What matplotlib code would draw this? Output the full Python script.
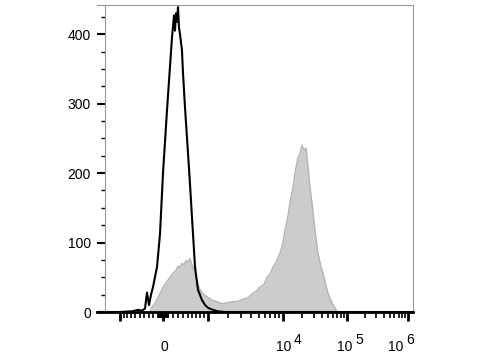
import numpy as np
import matplotlib
matplotlib.use('Agg')
import matplotlib.pyplot as plt
from matplotlib.ticker import FixedLocator, NullFormatter

plt.rcParams['font.family'] = ['Liberation Sans', 'DejaVu Sans']

# control (black outline) histogram: fluorescence value, event count
ctrl_x = [-2000, -1000, -679, -535, -443, -377, -334, -291, -248, -206, -123, -61,
          0, 39, 78, 137, 177, 217, 237, 257, 277, 298, 318, 339, 380, 401, 444,
          509, 553, 598, 669, 740, 841, 920, 1000, 1211, 1440, 1821, 1e6, 2e6]
ctrl_y = [0, 0, 1, 3, 2, 5, 28, 10, 25, 36, 65, 113,
          200, 245, 290, 353, 395, 427, 405, 430, 418, 439, 410, 400, 377, 345, 295,
          229, 185, 137, 65, 32, 17, 10, 6, 3, 1, 0, 0, 0]

# stained sample (grey filled) histogram
stain_x = [-269, -227, -144, -61, 20, 98, 157, 197, 257, 298, 339, 380, 423, 465,
           509, 553, 598, 669, 740, 790, 893, 973, 1166, 1391, 1650, 1947, 2273,
           2645, 3075, 3563, 4126, 4627, 5200, 5830, 6350, 6920, 7550, 8210, 9200,
           10000, 10750, 11970, 12860, 14330, 15400, 17150, 18400, 19800, 21300,
           22900, 24600, 26400, 28400, 31600, 35200, 39200, 42200, 46900, 50500,
           58300, 64900, 69900]
stain_y = [0, 7, 15, 27, 38, 46, 52, 56, 60, 66, 65, 70, 68, 74,
           72, 77, 68, 56, 40, 32, 25, 22, 17, 15, 12, 13, 15,
           15, 18, 20, 26, 30, 36, 40, 50, 55, 65, 72, 85,
           100, 118, 138, 157, 180, 200, 223, 228, 240, 233,
           236, 209, 180, 157, 118, 85, 65, 56, 38, 27,
           13, 6, 0]

y_major = [0, 100, 200, 300, 400]
x_major = [-1000, 0, 1000, 1e4, 1e5, 1e6]
x_label_vals = [0, 1e4, 1e5, 1e6]
x_label_base = ['0', '10', '10', '10']
x_label_exp = ['', '4', '5', '6']

# biexponential-like display scale (arcsinh, pinned at the decade positions)
W = 1000.0
anchor_u = np.arcsinh(np.array([-1e4, -1e3, 0, 1e3, 1e4, 1e5, 1e6, 1e7, 1e8]) / W)
anchor_pos = np.array([16.7, 120, 163, 208, 283, 347, 408, 469, 530])


def fwd(x):
    return np.interp(np.arcsinh(np.asarray(x, float) / W), anchor_u, anchor_pos)


def inv(p):
    return W * np.sinh(np.interp(np.asarray(p, float), anchor_pos, anchor_u))


fig = plt.figure(figsize=(4.8, 3.6), dpi=100)
ax = fig.add_axes([97 / 480, 48 / 360, 316 / 480, 307 / 360])
ax.set_xscale('function', functions=(fwd, inv))

ax.fill_between(stain_x, stain_y, color='#cccccc', lw=0, zorder=1)
ax.plot(stain_x, stain_y, color='#b4b4b4', lw=1, zorder=2)
ax.plot(ctrl_x, ctrl_y, color='black', lw=1.5, zorder=3)

ax.set_xlim(inv(97), inv(413))
ax.set_ylim(0, 442)

ax.spines['left'].set_position(('axes', 8 / 316))
for s in ['left', 'top', 'right']:
    ax.spines[s].set_color('#999999')
    ax.spines[s].set_linewidth(0.8)
ax.spines['bottom'].set_linewidth(2)

# ticks
ax.yaxis.set_major_locator(FixedLocator(y_major))
ax.yaxis.set_minor_locator(FixedLocator(np.arange(0, 441, 25)))
ax.xaxis.set_major_locator(FixedLocator(x_major))
ax.xaxis.set_major_formatter(NullFormatter())
minors = [float(v) for v in np.arange(-900, 0, 100)] + \
    [float(v) for v in np.arange(-90, 0, 10)] + \
    [float(v) for v in np.arange(10, 100, 10)] + \
    [float(v) for v in np.arange(100, 1000, 100)]
for dec in [1e3, 1e4, 1e5]:
    minors += [k * dec for k in range(2, 10)]
ax.xaxis.remove_overlapping_locs = False
ax.xaxis.set_minor_locator(FixedLocator(minors))
ax.xaxis.set_minor_formatter(NullFormatter())

ax.tick_params(axis='y', which='major', length=6, width=1.5, labelsize=10, pad=4)
ax.tick_params(axis='y', which='minor', length=3, width=1)
ax.tick_params(axis='x', which='major', length=6.5, width=2)
ax.tick_params(axis='x', which='minor', length=4.5, width=1.2, color='black')

# x labels: "10" centred on the tick, full-size raised exponent beside it
shifts = [1, 1, -2, -12]
for v, base, ex, dx in zip(x_label_vals, x_label_base, x_label_exp, shifts):
    ax.annotate(base, xy=(v, 0), xycoords=('data', 'axes fraction'),
                xytext=(dx * 0.72, -25), textcoords='offset points',
                ha='center', va='center', fontsize=10)
    if ex:
        ax.annotate(ex, xy=(v, 0), xycoords=('data', 'axes fraction'),
                    xytext=((dx + 14) * 0.72, -20.5), textcoords='offset points',
                    ha='center', va='center', fontsize=10)

fig.savefig('out.png', dpi=100)
